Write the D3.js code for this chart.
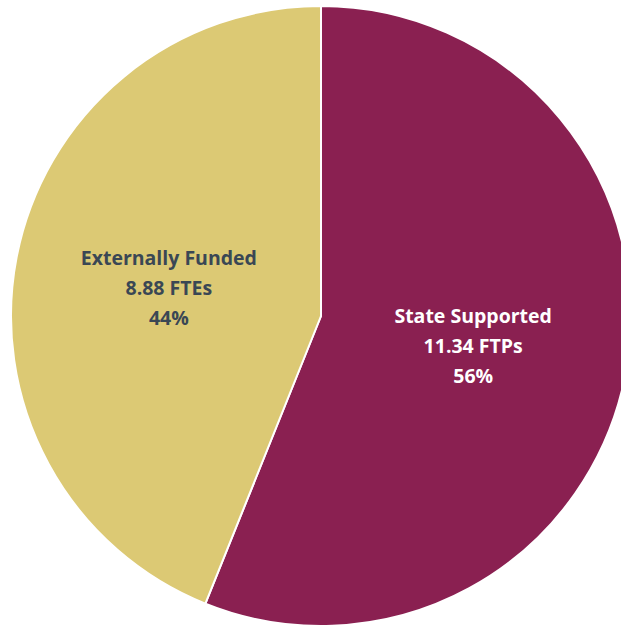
<!DOCTYPE html>
<html><head><meta charset="utf-8">
<script src="https://cdn.jsdelivr.net/npm/d3@7"></script>
<style>html,body{margin:0;padding:0;background:#fff;overflow:hidden}</style>
</head><body>
<svg id="c" width="621" height="626"></svg>
<script>
const categories = ["State Supported", "Externally Funded"];
const values = [11.34, 8.88];
const valueLabels = ["11.34 FTPs", "8.88 FTEs"];
const percentLabels = ["56%", "44%"];
const colors = ["#8A2051", "#DCC974"];
const textColors = ["#ffffff", "#3A4754"];

const svg = d3.select("#c");
const cx = 321, cy = 316, r = 310;
const g = svg.append("g").attr("transform", `translate(${cx},${cy})`);
const pie = d3.pie().sort(null).value(d => d)(values);
const arc = d3.arc().innerRadius(0).outerRadius(r);
g.selectAll("path").data(pie).join("path")
  .attr("d", arc).attr("fill", (d,i) => colors[i])
  .attr("stroke", "#fff").attr("stroke-width", 2).attr("stroke-linejoin","round");
pie.forEach((d,i) => {
  const [x,y] = arc.centroid(d);
  const t = g.append("text").attr("text-anchor","middle")
    .attr("font-family","'Open Sans', 'Liberation Sans', sans-serif")
    .attr("font-weight","bold").attr("font-size","19.5px")
    .attr("fill", textColors[i]);
  [categories[i], valueLabels[i], percentLabels[i]].forEach((s,k) => {
    t.append("tspan").attr("x", x).attr("y", y + (k-1)*30 + 8).text(s);
  });
});
</script>
</body></html>
